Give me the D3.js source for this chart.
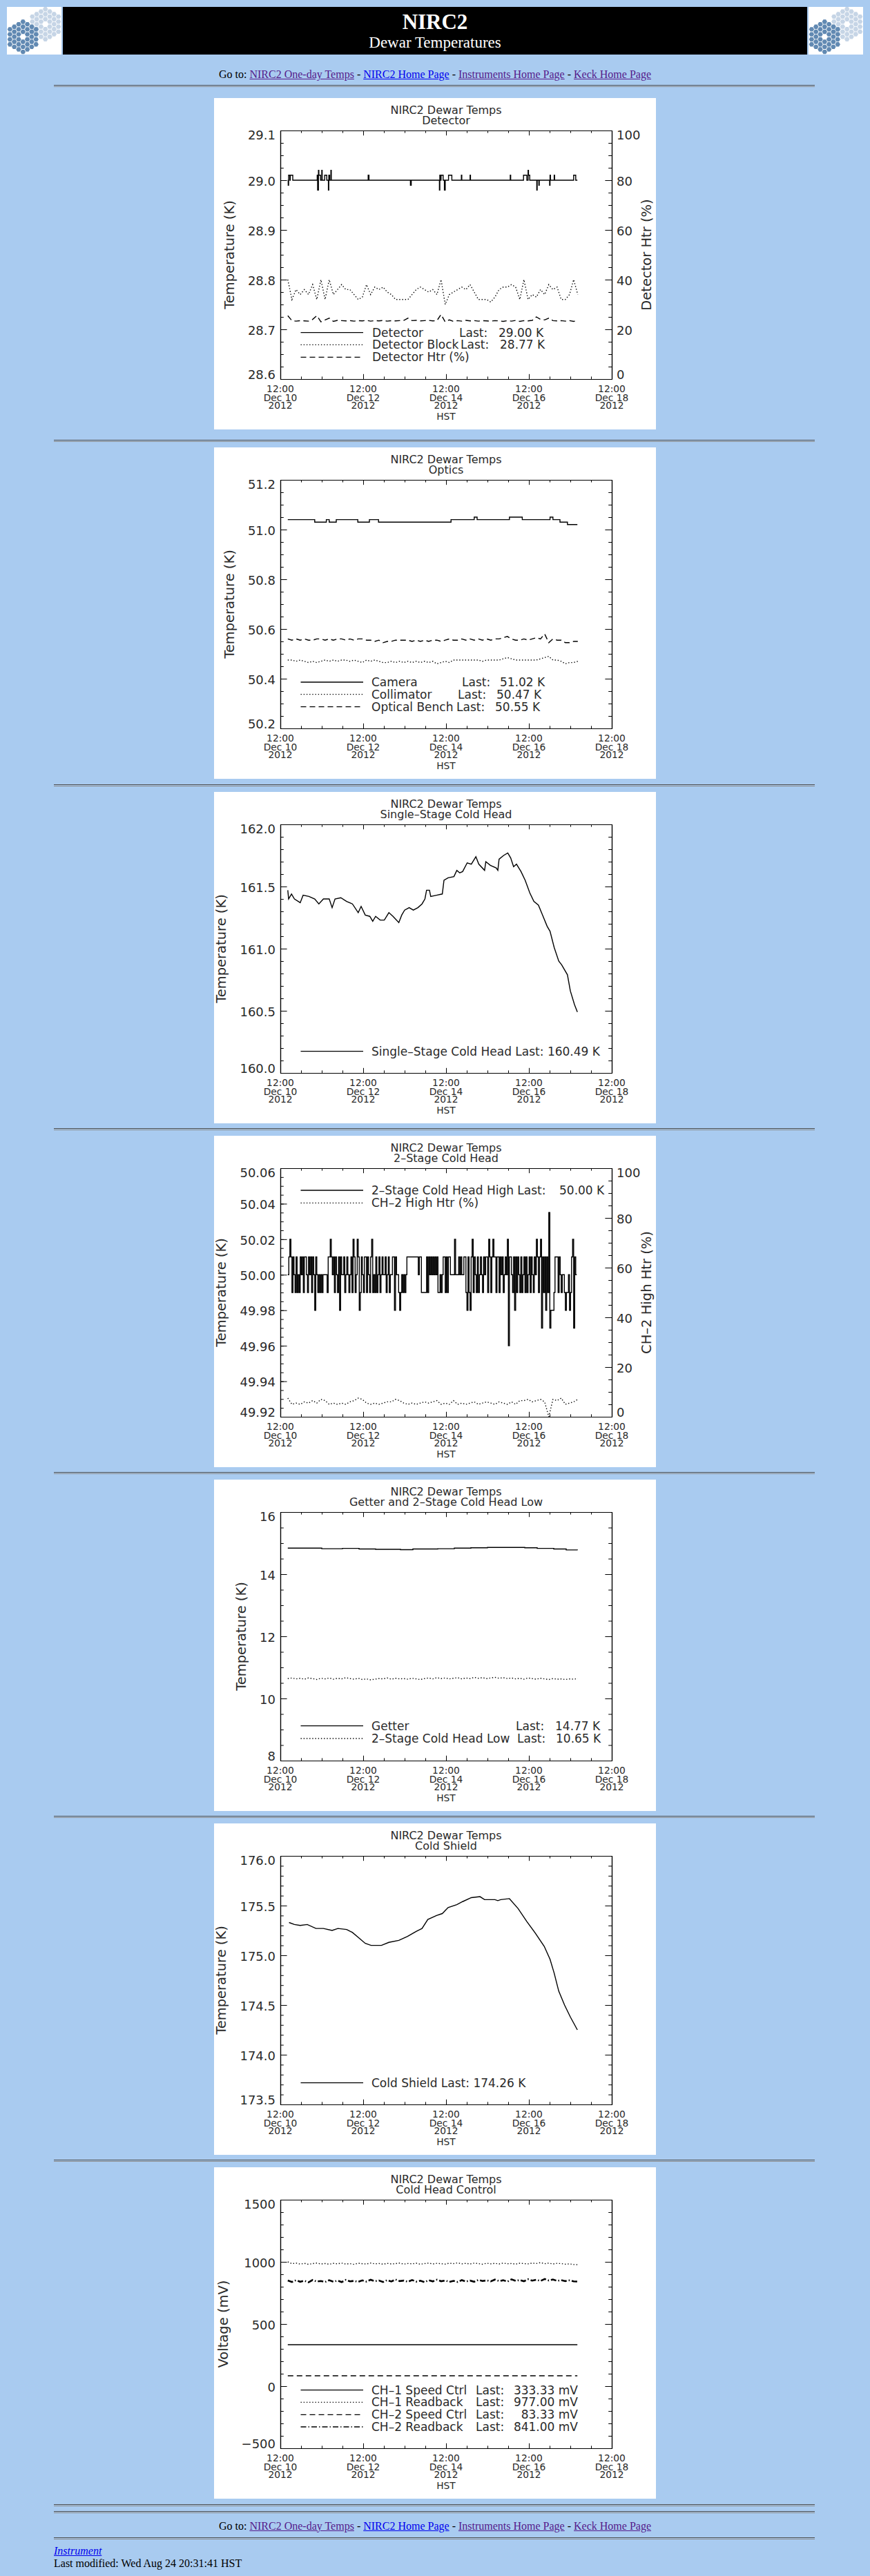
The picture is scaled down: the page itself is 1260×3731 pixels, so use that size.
<!DOCTYPE html>
<html>
<head>
<meta charset="utf-8">
<title>NIRC2 Dewar Temperatures</title>
<script src="https://cdn.jsdelivr.net/npm/d3@7"></script>
<style>
body { margin: 0; background: #a9cbf0; font-family: "Liberation Serif", "Times New Roman", serif; font-size: 16px; color: #000; }
#page { position: relative; width: 1260px; height: 3731px; overflow: hidden; }
.hr { position: absolute; left: 78px; width: 1102px; height: 1px; border-top: 1px solid #4d4d4d; border-bottom: 1px solid #8a8a8a; }
.goto { position: absolute; left: 0; width: 1260px; text-align: center; line-height: 18px; white-space: nowrap; }
a { text-decoration: underline; }
a.v { color: #551a8b; }
a.n { color: #0000ee; }
.banner { position: absolute; top: 10px; left: 91px; width: 1078px; height: 69px; background: #000; }
.bt { position: absolute; left: 91px; width: 1078px; text-align: center; color: #fff; white-space: nowrap; }
.logo { position: absolute; top: 10px; background: #fff; }
.plot { position: absolute; left: 310px; background: #fff; color: #000; }
.plot text { font-family: "DejaVu Sans", "Liberation Sans", sans-serif; fill: #2a2a2a; }
.plot .ttl { font-size: 16px; }
.plot .ylab text { font-size: 18px; }
.plot .xlab text, .plot .hst { font-size: 13.8px; }
.plot .atitle { font-size: 19.5px; }
.plot .leg { font-size: 17px; }
.foot { position: absolute; left: 78px; line-height: 18px; white-space: nowrap; }
</style>
</head>
<body>
<div id="page"></div>
<script>
// time axis: days after 12:00 Dec 10 2012 (HST)
var t0 = Date.UTC(2012, 11, 10, 12);
function dayDate(d) { return new Date(t0 + d * 864e5); }
function grid(start, step, n) {
    return d3.range(n).map(function(i) { return +(start + i * step).toFixed(3); });
}
var grid71 = grid(0.18, 0.1, 71);

// ---- Detector ----
var detT = [0.18, 0.19, 0.20, 0.23, 0.24, 0.30, 0.89, 0.90, 0.92, 0.93, 0.97, 1.00, 1.01, 1.07, 1.12, 1.16, 1.17, 1.19, 1.22, 1.23,
            2.12, 2.14, 3.14, 3.16, 3.84, 3.85, 3.86, 3.88, 3.93, 3.96, 3.98, 4.06, 4.14, 4.37, 4.38, 4.58, 4.59, 5.55, 5.56,
            5.87, 5.95, 5.98, 5.99, 6.02, 6.19, 6.20, 6.24, 6.25, 6.50, 6.51, 6.52, 6.61, 6.62, 7.08, 7.13, 7.17];
var detV = [29.00, 28.99, 29.01, 29.00, 29.01, 29.00, 29.01, 28.98, 29.02, 29.01, 29.00, 29.02, 29.00, 29.01, 29.00, 28.98, 29.01, 29.00, 29.02, 29.00,
            29.01, 29.00, 28.99, 29.00, 28.98, 29.01, 29.00, 29.01, 29.00, 28.98, 29.00, 29.01, 29.00, 29.01, 29.00, 29.01, 29.00, 29.01, 29.00,
            29.01, 29.00, 29.02, 29.01, 29.00, 28.98, 29.00, 28.99, 29.00, 28.99, 29.01, 29.00, 29.01, 29.00, 29.01, 29.00, 29.00];
var blockV = [28.80, 28.76, 28.78, 28.77, 28.78, 28.77, 28.79, 28.76, 28.80, 28.76,
              28.80, 28.77, 28.78, 28.79, 28.78, 28.78, 28.77, 28.76, 28.765, 28.79,
              28.77, 28.785, 28.78, 28.785, 28.775, 28.77, 28.76, 28.76, 28.76, 28.76,
              28.77, 28.78, 28.785, 28.78, 28.775, 28.78, 28.77, 28.80, 28.75, 28.77,
              28.775, 28.78, 28.785, 28.78, 28.79, 28.775, 28.76, 28.76, 28.76, 28.755,
              28.765, 28.78, 28.785, 28.785, 28.79, 28.785, 28.76, 28.80, 28.76, 28.77,
              28.765, 28.78, 28.77, 28.79, 28.78, 28.785, 28.76, 28.76, 28.77, 28.80,
              28.77];
var detHtrV = [25.5, 23.5, 23.3, 23.5, 23.4, 23.3, 24.0, 25.5, 23.0, 23.8,
               24.5, 23.2, 23.6, 23.5, 23.4, 23.5, 23.3, 23.5, 23.4, 23.6,
               23.3, 23.5, 23.4, 23.6, 23.3, 23.5, 23.4, 23.5, 23.6, 24.5,
               23.5, 23.6, 23.4, 23.5, 23.6, 23.4, 23.5, 26.0, 23.0, 23.8,
               23.2, 23.5, 23.3, 23.6, 23.4, 23.5, 23.3, 23.5, 23.4, 23.3,
               23.5, 23.4, 23.2, 23.5, 23.3, 23.6, 23.2, 23.5, 23.4, 23.6,
               25.0, 24.0, 23.8, 24.5, 23.5, 23.4, 23.5, 23.3, 23.5, 23.2,
               23.5];

// ---- Optics ----
var camT = [0.18, 0.83, 1.11, 1.18, 1.35, 1.87, 2.15, 2.37, 4.12, 4.68, 4.75, 5.53, 5.84, 6.51, 6.58, 6.75, 6.93, 7.17];
var camV = [51.04, 51.03, 51.04, 51.03, 51.04, 51.03, 51.04, 51.03, 51.04, 51.05, 51.04, 51.05, 51.04, 51.05, 51.04, 51.03, 51.02, 51.02];
var colV = [50.475, 50.475, 50.47, 50.475, 50.47, 50.465, 50.47, 50.465, 50.47, 50.475,
            50.47, 50.475, 50.47, 50.475, 50.475, 50.47, 50.475, 50.47, 50.465, 50.475,
            50.47, 50.475, 50.47, 50.465, 50.465, 50.47, 50.465, 50.47, 50.465, 50.47,
            50.465, 50.47, 50.465, 50.47, 50.465, 50.47, 50.46, 50.465, 50.47, 50.465,
            50.475, 50.475, 50.475, 50.475, 50.475, 50.475, 50.475, 50.47, 50.475, 50.475,
            50.475, 50.475, 50.48, 50.485, 50.48, 50.475, 50.475, 50.475, 50.475, 50.475,
            50.475, 50.48, 50.485, 50.49, 50.475, 50.475, 50.47, 50.46, 50.465, 50.465,
            50.47];
var benchV = [50.56, 50.555, 50.56, 50.555, 50.56, 50.555, 50.555, 50.56, 50.56, 50.555,
              50.56, 50.555, 50.56, 50.56, 50.555, 50.56, 50.555, 50.56, 50.56, 50.555,
              50.555, 50.55, 50.555, 50.545, 50.55, 50.55, 50.555, 50.555, 50.555, 50.555,
              50.55, 50.555, 50.55, 50.555, 50.55, 50.555, 50.555, 50.55, 50.555, 50.56,
              50.555, 50.555, 50.56, 50.555, 50.56, 50.555, 50.56, 50.555, 50.56, 50.555,
              50.56, 50.56, 50.565, 50.57, 50.56, 50.555, 50.555, 50.56, 50.555, 50.56,
              50.565, 50.56, 50.58, 50.545, 50.56, 50.555, 50.555, 50.545, 50.545, 50.55,
              50.55];

// ---- Single-Stage Cold Head ----
var ssT = [0.18, 0.20, 0.27, 0.34, 0.48, 0.55, 0.69, 0.83, 0.93, 1.04, 1.18, 1.25, 1.32, 1.46, 1.60, 1.74, 1.88, 1.95, 2.05, 2.16,
           2.23, 2.30, 2.41, 2.51, 2.62, 2.72, 2.86, 2.93, 3.00, 3.11, 3.21, 3.32, 3.42, 3.49, 3.53, 3.60, 3.63, 3.77, 3.91, 3.95,
           4.05, 4.19, 4.26, 4.33, 4.40, 4.51, 4.61, 4.72, 4.79, 4.93, 4.96, 5.07, 5.21, 5.25, 5.28, 5.39, 5.49, 5.56, 5.63, 5.70,
           5.81, 5.91, 6.02, 6.12, 6.23, 6.33, 6.44, 6.51, 6.61, 6.72, 6.79, 6.93, 7.00, 7.10, 7.17];
var ssV = [161.47, 161.40, 161.44, 161.40, 161.37, 161.43, 161.42, 161.40, 161.36, 161.40, 161.40, 161.33, 161.40, 161.41, 161.38, 161.36, 161.29, 161.34, 161.27, 161.26,
           161.22, 161.26, 161.23, 161.23, 161.29, 161.26, 161.21, 161.27, 161.31, 161.33, 161.31, 161.33, 161.36, 161.40, 161.47, 161.47, 161.42, 161.43, 161.44, 161.55,
           161.57, 161.58, 161.63, 161.61, 161.62, 161.69, 161.68, 161.74, 161.68, 161.63, 161.70, 161.67, 161.65, 161.63, 161.72, 161.75, 161.77, 161.73, 161.66, 161.68,
           161.62, 161.55, 161.45, 161.38, 161.35, 161.27, 161.18, 161.14, 161.01, 160.90, 160.87, 160.79, 160.66, 160.55, 160.49];

// ---- 2-Stage Cold Head: high stage, offsets from 50.00 K in 0.01 K, one every 0.025 day ----
var hiT = grid(0.18, 0.025, 280);
var hiOff = [0,1,2,1,-1,1,0,-1,1,-1, 0,-1,1,0,1,-1,1,1,0,-1, 1,0,1,-1,1,0,-2,1,0,-1, 0,-1,0,-1,0,0,0,0,-1,1,
             1,2,1,0,1,-1,1,0,-1,1, -2,1,0,0,1,-1,0,1,0,-1, 0,1,-1,2,1,-1,0,2,1,-2, -1,1,0,-1,1,1,-1,1,0,-1,
             1,2,-1,0,-1,1,-1,0,1,-1, 0,1,0,0,1,-1,0,1,-1,0, 0,1,1,-2,1,0,0,-1,-2,-1, 0,-1,0,-1,0,1,1,1,1,1,
             1,1,1,1,1,1,0,1,1,-1, -1,-1,-1,-1,1,-1,1,0,1,0, 1,0,1,0,1,-1,-1,0,-1,0, 1,1,-1,1,-1,1,1,0,0,0,
             0,2,0,0,0,1,0,1,0,0, 1,1,-1,-2,1,-1,-2,1,2,-1, 1,0,-1,1,-1,0,1,0,-1,1, 0,1,1,-1,2,1,-1,1,2,1,
             1,-1,1,1,-1,1,0,1,-1,0, 1,0,2,-4,1,1,0,-1,1,-2, 1,-1,1,0,-1,1,-1,0,1,-1, 1,-1,0,1,-1,1,0,-1,1,0,
             2,1,-1,1,2,-3,1,-1,1,-2, 1,-1,3.5,-3,-2,-2,-2,-1,1,1, 1,-1,1,0,-1,0,0,-1,-2,-1, -1,0,-2,-1,1,2,-3,1,0,0];
var hiV = hiOff.map(function(o) { return 50 + o * 0.01; });
var hiHtrV = [7.5, 5.0, 5.5, 5.0, 6.0, 5.5, 6.5, 5.5, 7.0, 6.5,
              5.0, 5.5, 5.0, 5.5, 5.0, 6.0, 6.5, 7.5, 7.0, 5.5,
              5.0, 5.5, 5.0, 5.5, 6.0, 6.0, 7.0, 6.5, 5.5, 5.0,
              5.5, 5.0, 5.5, 6.0, 5.5, 6.0, 6.5, 5.0, 5.5, 5.0,
              6.5, 5.0, 5.5, 5.0, 5.5, 6.0, 5.0, 5.5, 6.0, 5.5,
              5.0, 6.0, 5.5, 5.0, 6.0, 5.0, 6.5, 6.5, 7.0, 6.0,
              6.5, 7.0, 6.0, 0.0, 7.0, 6.5, 7.5, 5.0, 5.5, 6.0,
              7.0];

// ---- Getter and 2-Stage Cold Head Low ----
var getT = [0.18, 0.5, 1.0, 1.5, 1.9, 2.3, 2.9, 3.2, 3.8, 4.2, 4.6, 5.0, 5.5, 5.9, 6.2, 6.6, 6.9, 7.17];
var getV = [14.84, 14.84, 14.82, 14.83, 14.81, 14.80, 14.79, 14.81, 14.82, 14.84, 14.85, 14.86, 14.86, 14.85, 14.83, 14.81, 14.78, 14.77];
var lowV = [10.64, 10.66, 10.63, 10.65, 10.62, 10.66, 10.64, 10.61, 10.65, 10.63,
            10.66, 10.62, 10.65, 10.63, 10.67, 10.64, 10.62, 10.65, 10.61, 10.63,
            10.60, 10.62, 10.64, 10.63, 10.66, 10.62, 10.65, 10.63, 10.64, 10.62,
            10.65, 10.63, 10.61, 10.64, 10.66, 10.63, 10.67, 10.64, 10.66, 10.63,
            10.65, 10.67, 10.63, 10.66, 10.64, 10.68, 10.65, 10.67, 10.64, 10.66,
            10.68, 10.65, 10.67, 10.64, 10.66, 10.63, 10.65, 10.62, 10.66, 10.64,
            10.62, 10.65, 10.63, 10.61, 10.64, 10.62, 10.63, 10.61, 10.63, 10.62,
            10.64];

// ---- Cold Shield ----
var csT = [0.21, 0.34, 0.48, 0.65, 0.86, 1.04, 1.25, 1.39, 1.60, 1.74, 1.88, 2.05, 2.19, 2.44, 2.62, 2.86, 3.07, 3.28, 3.42, 3.56,
           3.77, 3.91, 4.05, 4.26, 4.40, 4.61, 4.82, 4.93, 5.18, 5.25, 5.32, 5.53, 5.74, 5.95, 6.16, 6.37, 6.51, 6.61, 6.72, 6.86,
           7.00, 7.17];
var csV = [175.33, 175.31, 175.30, 175.31, 175.27, 175.27, 175.25, 175.27, 175.26, 175.23, 175.18, 175.12, 175.10, 175.10, 175.13, 175.15, 175.19, 175.24, 175.27, 175.36,
           175.40, 175.42, 175.48, 175.51, 175.54, 175.58, 175.59, 175.56, 175.56, 175.55, 175.56, 175.57, 175.47, 175.34, 175.22, 175.09, 174.96, 174.82, 174.64, 174.50,
           174.38, 174.25];

// ---- Cold Head Control ----
var ctrlT = [0.18, 7.17];
var ch1SpeedV = [333.33, 333.33];
var ch2SpeedV = [83.33, 83.33];
var ch1ReadV = [1000, 985, 990, 982, 988, 980, 986, 990, 983, 987,
                981, 988, 984, 990, 982, 986, 980, 989, 985, 983,
                990, 984, 987, 981, 988, 983, 986, 990, 982, 987,
                984, 989, 981, 986, 990, 983, 988, 985, 982, 989,
                986, 992, 984, 988, 983, 990, 986, 981, 989, 984,
                988, 983, 990, 985, 987, 982, 989, 986, 984, 990,
                987, 994, 985, 990, 983, 988, 986, 981, 984, 979,
                977];
var ch2ReadV = [850, 838, 852, 840, 848, 836, 854, 842, 846, 838,
                852, 840, 849, 837, 855, 843, 847, 839, 851, 841,
                856, 844, 850, 838, 853, 842, 858, 845, 849, 840,
                854, 841, 848, 837, 852, 843, 856, 844, 850, 839,
                847, 838, 853, 842, 849, 840, 855, 846, 851, 843,
                857, 845, 852, 841, 859, 847, 854, 844, 860, 849,
                856, 846, 862, 850, 858, 847, 853, 845, 851, 843,
                841];

var dash = { solid: null, dot: "1.4,2.8", dash: "8,5", dashdot: "8,3,1.5,3" };

var charts = [
    { top: 142, sub: "Detector", yDom: [28.6, 29.1], step: 0.1, minor: 0.025, fmt: ".1f", title: "Temperature (K)",
      right: { dom: [0, 100], step: 20, minor: 5, fmt: "d", title: "Detector Htr (%)" },
      series: [ { t: detT, v: detV, style: "solid", step: true },
                { t: grid71, v: blockV, style: "dot" },
                { t: grid71, v: detHtrV, style: "dash", right: true } ],
      legend: [ { y: 339.7, style: "solid", parts: [[229, "Detector"], [355, "Last:"], [412, "29.00 K"]] },
                { y: 357.3, style: "dot", parts: [[229, "Detector Block"], [357, "Last:"], [414, "28.77 K"]] },
                { y: 375.3, style: "dash", parts: [[229, "Detector Htr (%)"]] } ] },
    { top: 648, sub: "Optics", yDom: [50.2, 51.2], step: 0.2, minor: 0.05, fmt: ".1f", title: "Temperature (K)",
      series: [ { t: camT, v: camV, style: "solid", step: true },
                { t: grid71, v: colV, style: "dot" },
                { t: grid71, v: benchV, style: "dash" } ],
      legend: [ { y: 340, style: "solid", parts: [[228, "Camera"], [359, "Last:"], [414, "51.02 K"]] },
                { y: 357.7, style: "dot", parts: [[228, "Collimator"], [353, "Last:"], [409, "50.47 K"]] },
                { y: 375.7, style: "dash", parts: [[228, "Optical Bench"], [351, "Last:"], [407, "50.55 K"]] } ] },
    { top: 1147, sub: "Single\u2013Stage Cold Head", yDom: [160, 162], step: 0.5, minor: 0.1, fmt: ".1f", title: "Temperature (K)",
      series: [ { t: ssT, v: ssV, style: "solid" } ],
      legend: [ { y: 375.7, style: "solid", parts: [[228, "Single\u2013Stage Cold Head Last: 160.49 K"]] } ] },
    { top: 1645, sub: "2\u2013Stage Cold Head", yDom: [49.92, 50.06], step: 0.02, minor: 0.005, fmt: ".2f", title: "Temperature (K)",
      right: { dom: [0, 100], step: 20, minor: 5, fmt: "d", title: "CH\u20132 High Htr (%)" },
      series: [ { t: hiT, v: hiV, style: "solid", step: true },
                { t: grid71, v: hiHtrV, style: "dot", right: true } ],
      legend: [ { y: 79, style: "solid", parts: [[228, "2\u2013Stage Cold Head High Last:"], [500, "50.00 K"]] },
                { y: 97.3, style: "dot", parts: [[228, "CH\u20132 High Htr (%)"]] } ] },
    { top: 2143, sub: "Getter and 2\u2013Stage Cold Head Low", yDom: [8, 16], step: 2, minor: 0.5, fmt: "d", title: "Temperature (K)",
      series: [ { t: getT, v: getV, style: "solid", step: true },
                { t: grid71, v: lowV, style: "dot" } ],
      legend: [ { y: 356.7, style: "solid", parts: [[228, "Getter"], [437, "Last:"], [494, "14.77 K"]] },
                { y: 375, style: "dot", parts: [[228, "2\u2013Stage Cold Head Low"], [439, "Last:"], [495, "10.65 K"]] } ] },
    { top: 2641, sub: "Cold Shield", yDom: [173.5, 176], step: 0.5, minor: 0.1, fmt: ".1f", title: "Temperature (K)",
      series: [ { t: csT, v: csV, style: "solid" } ],
      legend: [ { y: 375.7, style: "solid", parts: [[228, "Cold Shield Last: 174.26 K"]] } ] },
    { top: 3139, sub: "Cold Head Control", yDom: [-500, 1500], step: 500, minor: 100, fmt: "d", title: "Voltage (mV)",
      series: [ { t: ctrlT, v: ch1SpeedV, style: "solid" },
                { t: grid71, v: ch1ReadV, style: "dot" },
                { t: ctrlT, v: ch2SpeedV, style: "dash" },
                { t: grid71, v: ch2ReadV, style: "dashdot", width: 2.6 } ],
      legend: [ { y: 322.7, style: "solid", parts: [[228, "CH\u20131 Speed Ctrl"], [379, "Last:"], [527, "333.33 mV", "end"]] },
                { y: 340.3, style: "dot", parts: [[228, "CH\u20131 Readback"], [379, "Last:"], [527, "977.00 mV", "end"]] },
                { y: 358.3, style: "dash", parts: [[228, "CH\u20132 Speed Ctrl"], [379, "Last:"], [527, "83.33 mV", "end"]] },
                { y: 376, style: "dashdot", parts: [[228, "CH\u20132 Readback"], [379, "Last:"], [527, "841.00 mV", "end"]] } ] }
];

var page = d3.select("#page");

// ---- header ----
function drawLogo(left) {
    var s = 4.2, r = 3.7;
    var svg = page.append("svg").attr("class", "logo")
        .style("left", left + "px").attr("width", 79).attr("height", 69);
    var cells = [];
    for (var q = -3; q <= 3; q++)
        for (var rr = -3; rr <= 3; rr++)
            if (Math.max(Math.abs(q), Math.abs(rr), Math.abs(q + rr)) <= 3 && !(q === 0 && rr === 0)) cells.push([q, rr]);
    var hex = d3.range(6).map(function(i) {
        var a = Math.PI / 3 * i;
        return [r * Math.cos(a), r * Math.sin(a)];
    });
    [[55.7, 25, "#c6d5e6"], [23.3, 43.3, "#6189b2"]].forEach(function(m) {
        svg.append("g").selectAll("path").data(cells).join("path")
            .attr("transform", function(c) {
                return "translate(" + (m[0] + 1.5 * s * c[0]) + "," + (m[1] + Math.sqrt(3) * s * (c[1] + c[0] / 2)) + ")";
            })
            .attr("d", "M" + hex.join("L") + "Z")
            .attr("fill", m[2]);
    });
}
drawLogo(10);
drawLogo(1171);
page.append("div").attr("class", "banner");
page.append("div").attr("class", "bt").style("top", "15.5px")
    .style("font-size", "31px").style("line-height", "31px").style("font-weight", "bold").text("NIRC2");
page.append("div").attr("class", "bt").style("top", "50px")
    .style("font-size", "23px").style("line-height", "23px").text("Dewar Temperatures");

function gotoLine(top) {
    page.append("div").attr("class", "goto").style("top", top + "px")
        .html('Go to: <a class="v" href="#">NIRC2 One-day Temps</a> - <a class="n" href="#">NIRC2 Home Page</a> - ' +
              '<a class="v" href="#">Instruments Home Page</a> - <a class="v" href="#">Keck Home Page</a>');
}
gotoLine(99);
[124.3, 638.3, 1136.5, 1635, 2133.3, 2631, 3129, 3628.3, 3638.3, 3675.7].forEach(function(y) {
    page.append("div").attr("class", "hr").style("top", (y - 1) + "px");
});
gotoLine(3649.5);
page.append("div").attr("class", "foot").style("top", "3686px")
    .html('<a class="n" href="#"><i>Instrument</i></a>');
page.append("div").attr("class", "foot").style("top", "3704px")
    .text("Last modified: Wed Aug 24 20:31:41 HST");

// ---- charts ----
var L = 96, R = 576, T = 47, B = 407;
var fH = d3.utcFormat("%H:%M"), fMD = d3.utcFormat("%b %d"), fY = d3.utcFormat("%Y");

function majorTicks(dom, step) {
    var n = Math.round((dom[1] - dom[0]) / step);
    return d3.range(n + 1).map(function(i) { return dom[0] + i * step; });
}

function yAxis(svg, axisFn, y, x0, major, minor, fmt, labels) {
    svg.append("g").attr("transform", "translate(" + x0 + ",0)")
        .call(axisFn(y).tickValues(minor).tickSizeInner(-4.8).tickSizeOuter(0).tickFormat(""));
    var g = svg.append("g").attr("class", "ylab").attr("transform", "translate(" + x0 + ",0)")
        .call(axisFn(y).tickValues(major).tickSizeInner(-9.6).tickSizeOuter(0).tickPadding(7)
              .tickFormat(labels ? d3.format(fmt) : ""));
    var lo = major[0], hi = major[major.length - 1];
    g.selectAll("text").attr("y", function(d) {
        return Math.abs(d - lo) < 1e-9 ? -6 : Math.abs(d - hi) < 1e-9 ? 7 : 1.5;
    });
    return g;
}

charts.forEach(function(c) {
    var svg = page.append("svg").attr("class", "plot")
        .style("top", c.top + "px").attr("width", 640).attr("height", 480);

    var x = d3.scaleUtc().domain([dayDate(0), dayDate(8)]).range([L, R]);
    var y = d3.scaleLinear().domain(c.yDom).range([B, T]);
    var y2 = c.right ? d3.scaleLinear().domain(c.right.dom).range([B, T]) : null;

    svg.append("text").attr("class", "ttl").attr("x", 336).attr("y", 17.5).attr("dy", "0.36em")
        .attr("text-anchor", "middle").text("NIRC2 Dewar Temps");
    svg.append("text").attr("class", "ttl").attr("x", 336).attr("y", 31.8).attr("dy", "0.36em")
        .attr("text-anchor", "middle").text(c.sub);

    // x axes, bottom and top, ticks inside
    var xMaj = [0, 2, 4, 6, 8].map(dayDate);
    var xMin = d3.utcHour.every(12).range(dayDate(0), dayDate(8.01));
    [[d3.axisBottom, B], [d3.axisTop, T]].forEach(function(a) {
        svg.append("g").attr("transform", "translate(0," + a[1] + ")")
            .call(a[0](x).tickValues(xMin).tickSizeInner(-3.6).tickSizeOuter(0).tickFormat(""));
        svg.append("g").attr("transform", "translate(0," + a[1] + ")")
            .call(a[0](x).tickValues(xMaj).tickSizeInner(-7.2).tickSizeOuter(0).tickFormat(""));
    });
    var xl = svg.append("g").attr("class", "xlab");
    xl.selectAll("text").data(xMaj).join("text")
        .attr("text-anchor", "middle")
        .each(function(d) {
            var t = d3.select(this);
            [fH(d), fMD(d), fY(d)].forEach(function(s, i) {
                t.append("tspan").attr("x", x(d)).attr("y", [421.3, 433.7, 445.3][i]).attr("dy", "0.36em").text(s);
            });
        });
    svg.append("text").attr("class", "hst").attr("x", 336).attr("y", 461.3).attr("dy", "0.36em")
        .attr("text-anchor", "middle").text("HST");

    // y axes
    var maj = majorTicks(c.yDom, c.step), mnr = majorTicks(c.yDom, c.minor);
    var lg = yAxis(svg, d3.axisLeft, y, L, maj, mnr, c.fmt, true);
    if (c.right) {
        yAxis(svg, d3.axisRight, y2, R, majorTicks(c.right.dom, c.right.step),
              majorTicks(c.right.dom, c.right.minor), c.right.fmt, true);
        svg.append("text").attr("class", "atitle")
            .attr("transform", "translate(633," + ((T + B) / 2) + ") rotate(-90)")
            .attr("text-anchor", "middle").text(c.right.title);
    } else {
        yAxis(svg, d3.axisRight, y, R, maj, mnr, c.fmt, false);
    }
    var wMax = d3.max(lg.selectAll("text").nodes(), function(n) { return n.getComputedTextLength(); });
    svg.append("text").attr("class", "atitle")
        .attr("transform", "translate(" + (89 - wMax - 20) + "," + ((T + B) / 2) + ") rotate(-90)")
        .attr("text-anchor", "middle").text(c.title);

    svg.selectAll(".domain").attr("stroke-width", 1.2);

    // data
    c.series.forEach(function(s) {
        var ys = s.right ? y2 : y;
        var pts = s.t.map(function(t, i) { return [t, s.v[i]]; }).filter(function(p) { return p[1] != null; });
        svg.append("path").datum(pts)
            .attr("fill", "none").attr("stroke", "#000")
            .attr("stroke-width", s.width || 1.4)
            .attr("stroke-dasharray", dash[s.style])
            .attr("d", d3.line()
                .x(function(p) { return x(dayDate(p[0])); })
                .y(function(p) { return ys(p[1]); })
                .curve(s.step ? d3.curveStepAfter : d3.curveLinear));
    });

    // legend
    c.legend.forEach(function(r) {
        svg.append("line").attr("x1", 125.5).attr("x2", 216).attr("y1", r.y).attr("y2", r.y)
            .attr("stroke", "#000").attr("stroke-width", 1.3).attr("stroke-dasharray", dash[r.style]);
        r.parts.forEach(function(p) {
            svg.append("text").attr("class", "leg").attr("x", p[0]).attr("y", r.y).attr("dy", "0.36em")
                .attr("text-anchor", p[2] || "start").text(p[1]);
        });
    });
});
</script>
</body>
</html>
